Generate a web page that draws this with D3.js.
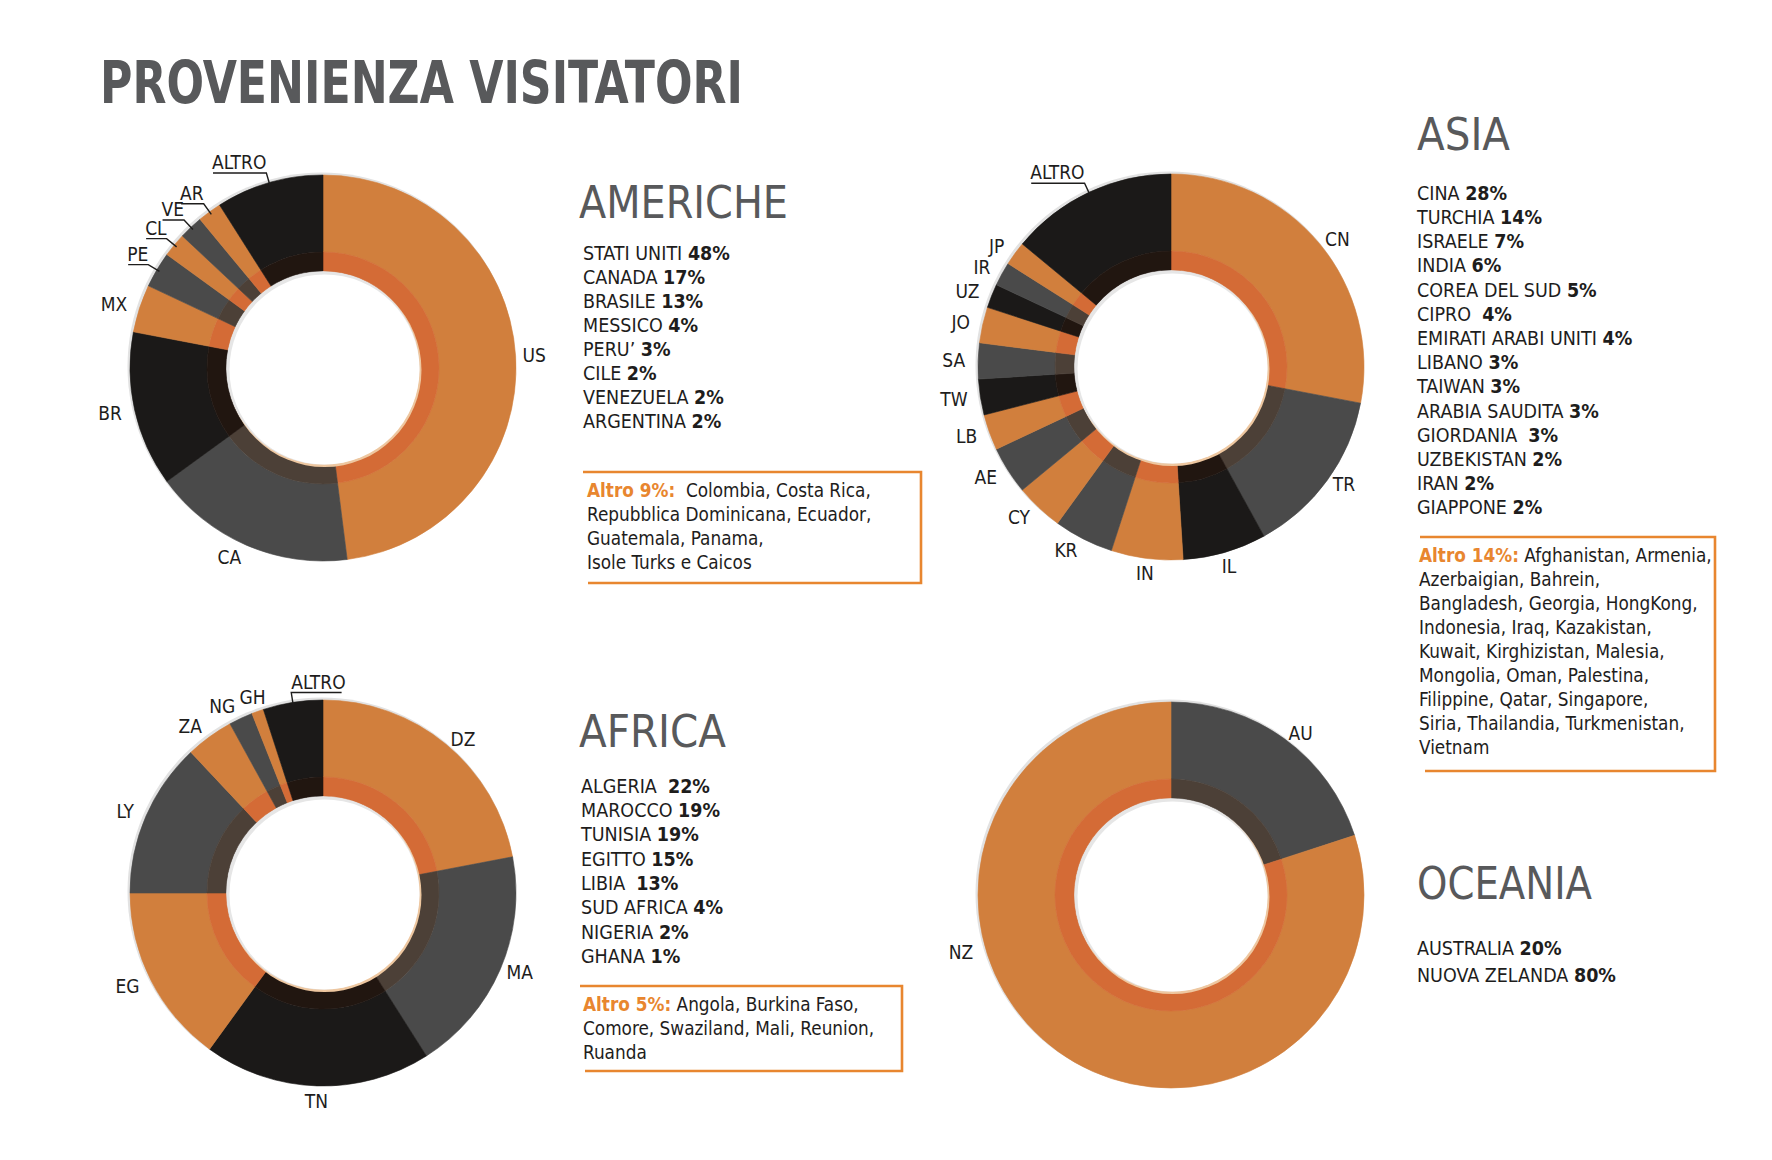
<!DOCTYPE html>
<html>
<head>
<meta charset="utf-8">
<script src="https://cdn.jsdelivr.net/npm/d3@7"></script>
<style>
  body { margin: 0; background: #fff; }
  text { font-family: "Liberation Sans Narrow", "DejaVu Sans Condensed", "Roboto", sans-serif; white-space: pre; }
</style>
</head>
<body>
<svg id="chart"></svg>
<script>
'use strict';

// ---- values (percent of visitors) ----
var americheCodes  = [ 'US', 'CA', 'BR', 'MX', 'PE', 'CL', 'VE', 'AR', 'ALTRO' ];
var americheValues = [ 48, 17, 13, 4, 3, 2, 2, 2, 9 ];
var americheNames  = [ 'STATI UNITI', 'CANADA', 'BRASILE', 'MESSICO', 'PERU\u2019', 'CILE', 'VENEZUELA', 'ARGENTINA' ];
var americheAltro  = [ ' Colombia, Costa Rica,', 'Repubblica Dominicana, Ecuador,', 'Guatemala, Panama,', 'Isole Turks e Caicos' ];

var asiaCodes  = [ 'CN', 'TR', 'IL', 'IN', 'KR', 'CY', 'AE', 'LB', 'TW', 'SA', 'JO', 'UZ', 'IR', 'JP', 'ALTRO' ];
var asiaValues = [ 28, 14, 7, 6, 5, 4, 4, 3, 3, 3, 3, 2, 2, 2, 14 ];
var asiaNames  = [ 'CINA', 'TURCHIA', 'ISRAELE', 'INDIA', 'COREA DEL SUD', 'CIPRO ', 'EMIRATI ARABI UNITI',
                   'LIBANO', 'TAIWAN', 'ARABIA SAUDITA', 'GIORDANIA ', 'UZBEKISTAN', 'IRAN', 'GIAPPONE' ];
var asiaAltro  = [ 'Afghanistan, Armenia,', 'Azerbaigian, Bahrein,', 'Bangladesh, Georgia, HongKong,',
                   'Indonesia, Iraq, Kazakistan,', 'Kuwait, Kirghizistan, Malesia,', 'Mongolia, Oman, Palestina,',
                   'Filippine, Qatar, Singapore,', 'Siria, Thailandia, Turkmenistan,', 'Vietnam' ];

var africaCodes  = [ 'DZ', 'MA', 'TN', 'EG', 'LY', 'ZA', 'NG', 'GH', 'ALTRO' ];
var africaValues = [ 22, 19, 19, 15, 13, 4, 2, 1, 5 ];
var africaNames  = [ 'ALGERIA ', 'MAROCCO', 'TUNISIA', 'EGITTO', 'LIBIA ', 'SUD AFRICA', 'NIGERIA', 'GHANA' ];
var africaAltro  = [ 'Angola, Burkina Faso,', 'Comore, Swaziland, Mali, Reunion,', 'Ruanda' ];

var oceaniaCodes  = [ 'AU', 'NZ' ];
var oceaniaValues = [ 20, 80 ];
var oceaniaNames  = [ 'AUSTRALIA', 'NUOVA ZELANDA' ];

// ---- styles ----
var shades = {
  o: { main: '#d17f3d', band: '#d46b36' },
  g: { main: '#4a4a4a', band: '#4c4037' },
  k: { main: '#1b1918', band: '#211610' }
};
var shadeAmeriche = [ 'o', 'g', 'k', 'o', 'g', 'o', 'g', 'o', 'k' ];
var shadeAsia     = [ 'o', 'g', 'k', 'o', 'g', 'o', 'g', 'o', 'k', 'g', 'o', 'k', 'g', 'o', 'k' ];
var shadeAfrica   = [ 'o', 'g', 'k', 'o', 'g', 'o', 'g', 'o', 'k' ];
var shadeOceania  = [ 'g', 'o' ];

var grayTitle = '#58595b',
    inkColor = '#1e1d1c',
    accent = '#e8862f';

var R_OUT = 193, R_BAND = 116, R_IN = 97;

var width = 1772, height = 1160;

var svg = d3.select( '#chart' )
    .attr( 'width', width )
    .attr( 'height', height );

svg.append( 'rect' )
    .attr( 'width', width )
    .attr( 'height', height )
    .attr( 'fill', '#fff' );

// title
svg.append( 'text' )
    .attr( 'x', 100 )
    .attr( 'y', 103 )
    .attr( 'font-size', 58 )
    .attr( 'font-weight', 700 )
    .attr( 'fill', grayTitle )
    .attr( 'textLength', 643 )
    .attr( 'lengthAdjust', 'spacingAndGlyphs' )
    .text( 'PROVENIENZA VISITATORI' );

function drawDonut( cx, cy, codes, values, shadeList, leaders, labelAt ) {
  var g = svg.append( 'g' )
      .attr( 'transform', 'translate(' + cx + ',' + cy + ')' );

  var pie = d3.pie()
      .sort( null )
      .value( function( d ) { return d.value; } );

  var arcs = pie( codes.map( function( c, i ) {
    return { code: c, value: values[i], shade: shades[ shadeList[i] ] };
  } ) );

  var mainArc = d3.arc().innerRadius( R_BAND ).outerRadius( R_OUT );
  var bandArc = d3.arc().innerRadius( R_IN ).outerRadius( R_BAND );

  // faint rim behind the ring
  g.append( 'circle' )
      .attr( 'cx', -1.5 ).attr( 'cy', -1.5 )
      .attr( 'r', R_OUT + 1 )
      .attr( 'fill', '#e2e2e2' );

  g.selectAll( 'path.main' )
    .data( arcs )
    .enter().append( 'path' )
      .attr( 'class', 'main' )
      .attr( 'd', mainArc )
      .attr( 'fill', function( d ) { return d.data.shade.main; } )
      .attr( 'stroke', function( d ) { return d.data.shade.main; } )
      .attr( 'stroke-width', 0.6 );

  g.selectAll( 'path.band' )
    .data( arcs )
    .enter().append( 'path' )
      .attr( 'class', 'band' )
      .attr( 'd', bandArc )
      .attr( 'fill', function( d ) { return d.data.shade.band; } )
      .attr( 'stroke', function( d ) { return d.data.shade.band; } )
      .attr( 'stroke-width', 0.6 );

  // soft edge of the hole
  g.append( 'circle' )
      .attr( 'cx', 1.5 ).attr( 'cy', 2 )
      .attr( 'r', R_IN )
      .attr( 'fill', '#eec7a0' );
  g.append( 'circle' )
      .attr( 'r', R_IN - 0.5 )
      .attr( 'fill', '#e6e6e6' );
  g.append( 'circle' )
      .attr( 'cx', 1.5 ).attr( 'cy', 1.5 )
      .attr( 'r', R_IN - 2 )
      .attr( 'fill', '#fff' );

  // labels
  arcs.forEach( function( a ) {
    var code = a.data.code;
    var frac = labelAt && labelAt[code] != null ? labelAt[code] : null;
    var ang = frac != null ? frac * 2 * Math.PI : ( a.startAngle + a.endAngle ) / 2;
    var s = Math.sin( ang ), c = Math.cos( ang );

    if ( leaders.indexOf( code ) >= 0 ) {
      var left = s < -0.2;
      var p0 = [ ( R_OUT - 3 ) * s, -( R_OUT - 3 ) * c ];
      var p1 = [ ( R_OUT + 10 ) * s, -( R_OUT + 10 ) * c ];
      var t = g.append( 'text' )
          .attr( 'x', p1[0] )
          .attr( 'y', p1[1] - 4 )
          .attr( 'font-size', 19 )
          .attr( 'fill', inkColor )
          .attr( 'text-anchor', left ? 'end' : 'start' )
          .text( code );
      var w = t.node().getComputedTextLength();
      var xEnd = left ? p1[0] - w + 1 : p1[0] + w - 4;
      g.append( 'path' )
          .attr( 'd', 'M' + p0[0] + ',' + p0[1] + 'L' + p1[0] + ',' + p1[1] + 'L' + xEnd + ',' + p1[1] )
          .attr( 'fill', 'none' )
          .attr( 'stroke', inkColor )
          .attr( 'stroke-width', 1.4 );
      return;
    }

    var anchor, r;
    if ( s > 0.35 ) { anchor = 'start'; r = 200; }
    else if ( s < -0.35 ) { anchor = 'end'; r = 206; }
    else { anchor = 'middle'; r = 208; }

    g.append( 'text' )
        .attr( 'x', r * s )
        .attr( 'y', -r * c )
        .attr( 'dy', '0.35em' )
        .attr( 'font-size', 19 )
        .attr( 'fill', inkColor )
        .attr( 'text-anchor', anchor )
        .text( code );
  } );
}

function drawHeading( x, y, len, label ) {
  svg.append( 'text' )
      .attr( 'x', x )
      .attr( 'y', y )
      .attr( 'font-size', 45 )
      .attr( 'fill', grayTitle )
      .attr( 'textLength', len )
      .attr( 'lengthAdjust', 'spacingAndGlyphs' )
      .text( label );
}

function drawList( x, y0, step, names, values ) {
  names.forEach( function( n, i ) {
    var t = svg.append( 'text' )
        .attr( 'x', x )
        .attr( 'y', y0 + i * step )
        .attr( 'dy', '0.35em' )
        .attr( 'font-size', 19.5 )
        .attr( 'fill', inkColor );
    t.append( 'tspan' ).text( n + ' ' );
    t.append( 'tspan' ).attr( 'font-weight', 700 ).text( values[i] + '%' );
  } );
}

function drawAltroBox( box, pct, lines ) {
  svg.append( 'path' )
      .attr( 'd', 'M' + box.x0 + ',' + box.top + 'H' + box.x1 + 'V' + box.bottom + 'H' + ( box.x0 + 5 ) )
      .attr( 'fill', 'none' )
      .attr( 'stroke', accent )
      .attr( 'stroke-width', 2.6 );

  lines.forEach( function( line, i ) {
    var t = svg.append( 'text' )
        .attr( 'x', box.tx )
        .attr( 'y', box.ty + i * 24 )
        .attr( 'dy', '0.35em' )
        .attr( 'font-size', 18.8 )
        .attr( 'fill', inkColor );
    if ( i === 0 ) {
      t.append( 'tspan' ).attr( 'fill', accent ).attr( 'font-weight', 700 ).text( 'Altro ' + pct + '%:' );
      t.append( 'tspan' ).text( ' ' + line );
    } else {
      t.text( line );
    }
  } );
}

function altroOf( codes, values ) {
  return values[ codes.indexOf( 'ALTRO' ) ];
}

// AMERICHE
drawDonut( 323, 368, americheCodes, americheValues, shadeAmeriche, [ 'PE', 'CL', 'VE', 'AR', 'ALTRO' ] );
drawHeading( 579, 218, 209, 'AMERICHE' );
drawList( 583, 253, 24, americheNames, americheValues );
drawAltroBox( { x0: 583, x1: 921, top: 472, bottom: 583, tx: 587, ty: 490 },
  altroOf( americheCodes, americheValues ), americheAltro );

// ASIA
drawDonut( 1171, 367, asiaCodes, asiaValues, shadeAsia, [ 'ALTRO' ] );
drawHeading( 1417, 150, 93, 'ASIA' );
drawList( 1417, 193, 24.2, asiaNames, asiaValues );
drawAltroBox( { x0: 1420, x1: 1715, top: 537, bottom: 771, tx: 1419, ty: 555 },
  altroOf( asiaCodes, asiaValues ), asiaAltro );

// AFRICA
drawDonut( 323, 893, africaCodes, africaValues, shadeAfrica, [ 'ALTRO' ] );
drawHeading( 579, 747, 147, 'AFRICA' );
drawList( 581, 786, 24.3, africaNames, africaValues );
drawAltroBox( { x0: 580, x1: 902, top: 986, bottom: 1071, tx: 583, ty: 1004 },
  altroOf( africaCodes, africaValues ), africaAltro );

// OCEANIA
drawDonut( 1171, 895, oceaniaCodes, oceaniaValues, shadeOceania, [], { NZ: 0.705 } );
drawHeading( 1417, 899, 175, 'OCEANIA' );
drawList( 1417, 948, 27, oceaniaNames, oceaniaValues );
</script>
</body>
</html>
